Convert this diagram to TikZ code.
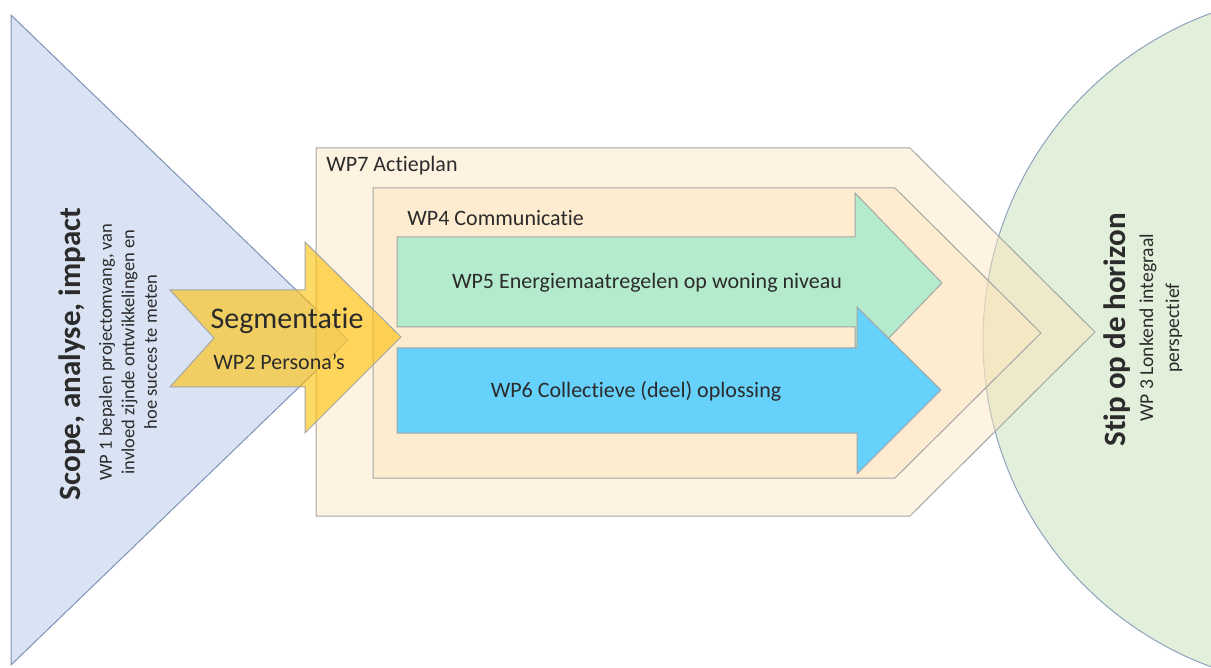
\documentclass[tikz,border=0pt]{standalone}
\usepackage{fontspec}
\setmainfont{Carlito}[Ligatures=CommonOff]
\definecolor{scopefill}{HTML}{DAE3F3}
\definecolor{scopeline}{HTML}{7F93B8}
\definecolor{horizonfill}{HTML}{E2EFDA}
\definecolor{horizonline}{HTML}{8EA3BE}
\definecolor{planfill}{HTML}{FCE4BC}
\definecolor{boxgray}{HTML}{A5A5A5}
\definecolor{energyfill}{HTML}{B3EBCC}
\definecolor{collectfill}{HTML}{66D1FA}
\definecolor{segfill}{HTML}{FFC000}
\definecolor{textgray}{HTML}{2B2B2B}
\begin{document}
\begin{tikzpicture}[x=0.5pt,y=-0.5pt,
      every node/.style={inner sep=0pt,text=textgray},
      wpbox/.style={draw=boxgray,line width=0.5pt,fill=planfill,fill opacity=0.45},
      wparrow/.style={draw=boxgray,line width=0.5pt},
      wplabel/.style={font=\fontsize{11}{13}\selectfont},
      bigtitle/.style={font=\bfseries\fontsize{15.5}{18}\selectfont,rotate=90},
      smalltext/.style={font=\fontsize{9.25}{11.25}\selectfont,rotate=90,align=center}]
      \useasboundingbox (0,0) rectangle (1211,668);
      % scope and horizon
      \draw [fill=scopefill,draw=scopeline,line width=0.5pt] (11,15) -- (348,340) -- (11,665) -- cycle;
      \draw [fill=horizonfill,draw=horizonline,line width=0.5pt] (1331,340) circle [radius=174pt];
      % WP7 and WP4
      \draw [wpbox] (316,148) -- (910,148) -- (1095,332) -- (910,516) -- (316,516) -- cycle;
      \node [wplabel,anchor=west] (actieplan) at (326,166) {WP7 Actieplan};
      \draw [wpbox] (373,188) -- (895,188) -- (1041,333) -- (895,478) -- (373,478) -- cycle;
      \node [wplabel,anchor=west] (communicatie) at (407,218) {WP4 Communicatie};
      % WP5 and WP6 arrows
      \draw [wparrow,fill=energyfill] (397,237) -- (855,237) -- (855,193) -- (942,283) -- (855,373) -- (855,327) -- (397,327) -- cycle;
      \draw [wparrow,fill=collectfill] (397,348) -- (857,348) -- (857,307) -- (941,390) -- (857,474) -- (857,433) -- (397,433) -- cycle;
      \node [wplabel] (energie) at (647,283) {WP5 Energiemaatregelen op woning niveau};
      \node [wplabel] (collectief) at (636,391) {WP6 Collectieve (deel) oplossing};
      % segmentatie
      \draw [wparrow,fill=segfill,fill opacity=0.6] (170,290) -- (305,290) -- (305,242) -- (401,337) -- (305,433) -- (305,387) -- (170,387) -- (214,338) -- cycle;
      \node [font=\fontsize{15}{18}\selectfont] (segmentatie) at (287,321) {Segmentatie};
      \node [wplabel] (persona) at (279,362) {WP2 Persona’s};
      % side texts
      \node [bigtitle] (scope) at (72,354) {Scope, analyse, impact};
      \node [smalltext] (scopetext) at (128,352) {WP 1 bepalen projectomvang, van\\invloed zijnde ontwikkelingen en\\hoe succes te meten};
      \node [bigtitle] (stip) at (1117,330) {Stip op de horizon};
      \node [smalltext,font=\fontsize{9.8}{13}\selectfont] (stiptext) at (1161,328) {WP 3 Lonkend integraal\\perspectief};
\end{tikzpicture}
\end{document}
